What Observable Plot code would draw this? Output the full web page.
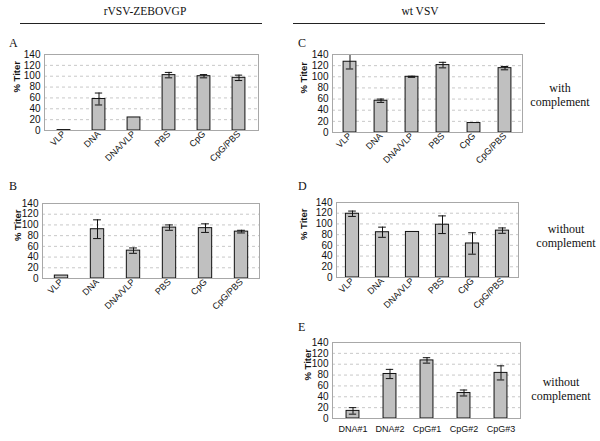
<!DOCTYPE html>
<html>
<head>
<meta charset="utf-8">
<script src="https://cdn.jsdelivr.net/npm/d3@7"></script>
<script src="https://cdn.jsdelivr.net/npm/@observablehq/plot@0.6"></script>
<style>
  html, body { margin: 0; padding: 0; background: #fff; }
  #wrap { position: relative; width: 600px; height: 441px; overflow: hidden; background: #fff; }
  .abs { position: absolute; }
  .serif { font-family: "Liberation Serif", "DejaVu Serif", "Times New Roman", serif; color: #111; }
  .hdr { font-size: 11.5px; transform: translateX(-50%); white-space: nowrap; }
  .side { font-size: 12px; text-align: center; transform: translateX(-50%); line-height: 14px; white-space: nowrap; }
  .letter { font-size: 12px; }
  .hline { height: 0; border-top: 1px solid #222; }
</style>
</head>
<body>
<div id="wrap"></div>
<script>
// ---- data ----
const categories = ["VLP", "DNA", "DNA/VLP", "PBS", "CpG", "CpG/PBS"];
const eCategories = ["DNA#1", "DNA#2", "CpG#1", "CpG#2", "CpG#3"];
const yTicks = [0, 20, 40, 60, 80, 100, 120, 140];

const aValues = [0.8, 58, 24, 102, 100, 97];
const aErrors = [0, 11, 0, 5, 3, 5];

const bValues = [5.5, 92, 52, 95, 94, 87.5];
const bErrors = [0, 17.5, 5, 5, 8, 2.5];

const cValues = [127, 57, 100, 121, 17, 115.5];
const cErrors = [13, 3, 1, 5, 0, 3];

const dValues = [119, 84.5, 85, 98.5, 63.5, 87.5];
const dErrors = [5, 9.5, 0, 16.5, 20, 5];

const eValues = [14, 82, 107, 47, 84];
const eErrors = [6, 8.5, 5, 5.5, 13];

const titles = ["rVSV-ZEBOVGP", "wt VSV"];
const panelLetters = ["A", "B", "C", "D", "E"];
const sideLabels = [["with", "complement"], ["without", "complement"], ["without", "complement"]];
const yLabel = "% Titer";

const wrap = document.getElementById("wrap");

function panel({cats, vals, errs, fx, fy, fw, fh, rotate, labelOff}) {
  const mL = 46, mR = 8, mT = 6, mB = rotate ? 52 : 22;
  const rows = cats.map((c, i) => ({c, v: vals[i], e: errs[i]}));
  const step = fw / cats.length;
  const barInset = (step - 13.5) / 2;
  const capInset = (step - 8) / 2;
  const chart = Plot.plot({
    width: mL + fw + mR,
    height: mT + fh + mB,
    marginLeft: mL, marginRight: mR, marginTop: mT, marginBottom: mB,
    style: {fontFamily: "'Liberation Sans', Arial, sans-serif", fontSize: "10px", color: "#111", background: "transparent"},
    x: {domain: cats, padding: 0},
    y: {domain: [0, 140]},
    marks: [
      Plot.ruleY(yTicks.filter(t => t > 0 && t < 140), {stroke: "#c8c8c8", strokeDasharray: "3,3", strokeWidth: 1}),
      Plot.barY(rows, {x: "c", y: "v", fill: "#c0c0c0", stroke: "#111", strokeWidth: 1, insetLeft: barInset, insetRight: barInset}),
      Plot.ruleX(rows.filter(d => d.e > 0), {x: "c", y1: d => d.v - d.e, y2: d => d.v + d.e, stroke: "#111", strokeWidth: 1}),
      Plot.tickY(rows.filter(d => d.e > 0), {x: "c", y: d => d.v + d.e, stroke: "#111", strokeWidth: 1, insetLeft: capInset, insetRight: capInset}),
      Plot.tickY(rows.filter(d => d.e > 0), {x: "c", y: d => d.v - d.e, stroke: "#111", strokeWidth: 1, insetLeft: capInset, insetRight: capInset}),
      Plot.frame({stroke: "#a8a8a8"}),
      Plot.axisY({ticks: yTicks, tickSize: 0, tickPadding: 4, label: null, fontSize: 10}),
      Plot.axisX({tickSize: 0, tickPadding: rotate ? 2 : 7, tickRotate: rotate ? -45 : 0, label: null, fontSize: 9}),
      Plot.text([yLabel], {text: d => d, frameAnchor: "left", rotate: -90, dx: -labelOff, fontWeight: "bold", fontSize: 9.5, fill: "#111"})
    ]
  });
  chart.style.position = "absolute";
  chart.style.left = (fx - mL) + "px";
  chart.style.top = (fy - mT) + "px";
  wrap.appendChild(chart);
}

panel({cats: categories, vals: aValues, errs: aErrors, fx: 44, fy: 54, fw: 214, fh: 76, rotate: true, labelOff: 28});
panel({cats: categories, vals: bValues, errs: bErrors, fx: 42, fy: 203, fw: 217, fh: 75, rotate: true, labelOff: 25});
panel({cats: categories, vals: cValues, errs: cErrors, fx: 332, fy: 54, fw: 190, fh: 78, rotate: true, labelOff: 29});
panel({cats: categories, vals: dValues, errs: dErrors, fx: 336, fy: 202, fw: 182, fh: 75, rotate: true, labelOff: 33});
panel({cats: eCategories, vals: eValues, errs: eErrors, fx: 332, fy: 342, fw: 188, fh: 76, rotate: false, labelOff: 25});

function addText(cls, txt, x, y) {
  const d = document.createElement("div");
  d.className = "abs serif " + cls;
  d.style.left = x + "px";
  d.style.top = y + "px";
  if (Array.isArray(txt)) d.innerHTML = txt.join("<br>"); else d.textContent = txt;
  wrap.appendChild(d);
}
function addLine(x1, x2, y) {
  const d = document.createElement("div");
  d.className = "abs hline";
  d.style.left = x1 + "px"; d.style.width = (x2 - x1) + "px"; d.style.top = y + "px";
  wrap.appendChild(d);
}
addText("hdr", titles[0], 145, 5);
addText("hdr", titles[1], 420, 5);
addLine(20, 262, 23);
addLine(293, 545, 23);
addText("letter", panelLetters[0], 9, 36);
addText("letter", panelLetters[1], 9, 179);
addText("letter", panelLetters[2], 298, 36);
addText("letter", panelLetters[3], 298, 179);
addText("letter", panelLetters[4], 298, 320);
addText("side", sideLabels[0], 560, 81);
addText("side", sideLabels[1], 566, 222);
addText("side", sideLabels[2], 561, 375);
</script>
</body>
</html>
